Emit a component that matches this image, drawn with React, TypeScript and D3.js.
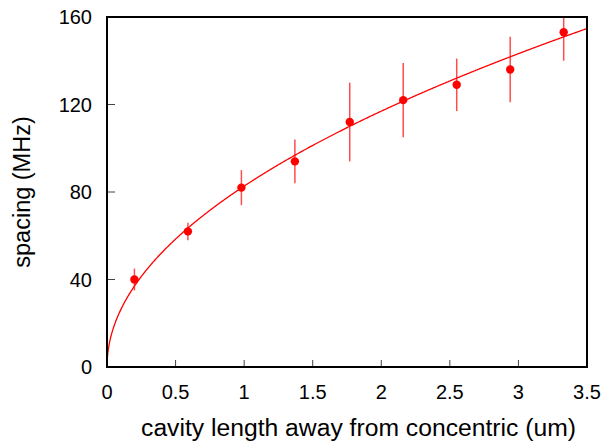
import React from "react";
import * as d3 from "d3";

const xValues = [0.2, 0.59, 0.98, 1.37, 1.77, 2.16, 2.55, 2.94, 3.33];
const yValues = [40, 62, 82, 94, 112, 122, 129, 136, 153];
const yErrors = [5, 4, 8, 10, 18, 17, 12, 15, 13];
const xTicks = [0, 0.5, 1, 1.5, 2, 2.5, 3, 3.5];
const xTickLabels = ["0", "0.5", "1", "1.5", "2", "2.5", "3", "3.5"];
const yTicks = [0, 40, 80, 120, 160];
const yTickLabels = ["0", "40", "80", "120", "160"];
const fitCoefficient = 82.7; // fit: spacing = a * sqrt(length)
const xTitle = "cavity length away from concentric (um)";
const yTitle = "spacing (MHz)";

const W = 610;
const H = 441;
const M = { left: 107, right: 587, top: 17, bottom: 367 };
const FONT = "'Liberation Sans', Arial, Helvetica, sans-serif";

export default function App() {
  const x = d3.scaleLinear().domain([0, 3.5]).range([M.left, M.right]);
  const y = d3.scaleLinear().domain([0, 160]).range([M.bottom, M.top]);

  const curvePts: [number, number][] = d3
    .range(0, 1001)
    .map((i) => {
      const xv = (3.5 * i) / 1000;
      return [xv, fitCoefficient * Math.sqrt(xv)];
    });
  const line = d3
    .line<[number, number]>()
    .x((d) => x(d[0]))
    .y((d) => y(d[1]));

  return (
    <svg
      width={W}
      height={H}
      style={{ position: "absolute", left: 0, top: 0, background: "#fff" }}
      fontFamily={FONT}
    >
      <defs>
        <clipPath id="plotclip">
          <rect x={M.left} y={M.top} width={M.right - M.left} height={M.bottom - M.top} />
        </clipPath>
      </defs>
      <rect x={0} y={0} width={W} height={H} fill="#fff" />

      {/* ticks */}
      {xTicks.map((t, i) =>
        i > 0 && i < xTicks.length - 1 ? (
          <line key={"xt" + i} x1={x(t)} x2={x(t)} y1={M.bottom} y2={M.bottom - 7} stroke="#444" strokeWidth={1} />
        ) : null
      )}
      {yTicks.map((t, i) =>
        i > 0 && i < yTicks.length - 1 ? (
          <line key={"yt" + i} x1={M.left} x2={M.left + 8} y1={y(t)} y2={y(t)} stroke="#444" strokeWidth={1} />
        ) : null
      )}

      {/* fit curve, error bars and points */}
      <g clipPath="url(#plotclip)">
        <path d={line(curvePts) || ""} fill="none" stroke="#ff0000" strokeWidth={1.3} />
        {xValues.map((xv, i) => (
          <line
            key={"eb" + i}
            x1={x(xv)}
            x2={x(xv)}
            y1={y(yValues[i] - yErrors[i])}
            y2={y(yValues[i] + yErrors[i])}
            stroke="#ff0000"
            strokeOpacity={0.7}
            strokeWidth={1.5}
          />
        ))}
        {xValues.map((xv, i) => (
          <circle key={"pt" + i} cx={x(xv)} cy={y(yValues[i])} r={4.2} fill="#ff0000" />
        ))}
      </g>

      {/* frame */}
      <rect
        x={M.left}
        y={M.top}
        width={M.right - M.left}
        height={M.bottom - M.top}
        fill="none"
        stroke="#000"
        strokeWidth={2}
      />

      {/* tick labels */}
      {xTicks.map((t, i) => (
        <text key={"xl" + i} x={x(t)} y={399} textAnchor="middle" fontSize={20} fill="#000">
          {xTickLabels[i]}
        </text>
      ))}
      {yTicks.map((t, i) => (
        <text key={"yl" + i} x={92} y={y(t)} dy="0.36em" textAnchor="end" fontSize={20} fill="#000">
          {yTickLabels[i]}
        </text>
      ))}

      {/* titles */}
      <text x={358.5} y={436} textAnchor="middle" fontSize={24.7} fill="#000">
        {xTitle}
      </text>
      <text
        transform={`translate(30, ${(M.top + M.bottom) / 2}) rotate(-90)`}
        textAnchor="middle"
        fontSize={23.5}
        fill="#000"
      >
        {yTitle}
      </text>
    </svg>
  );
}
